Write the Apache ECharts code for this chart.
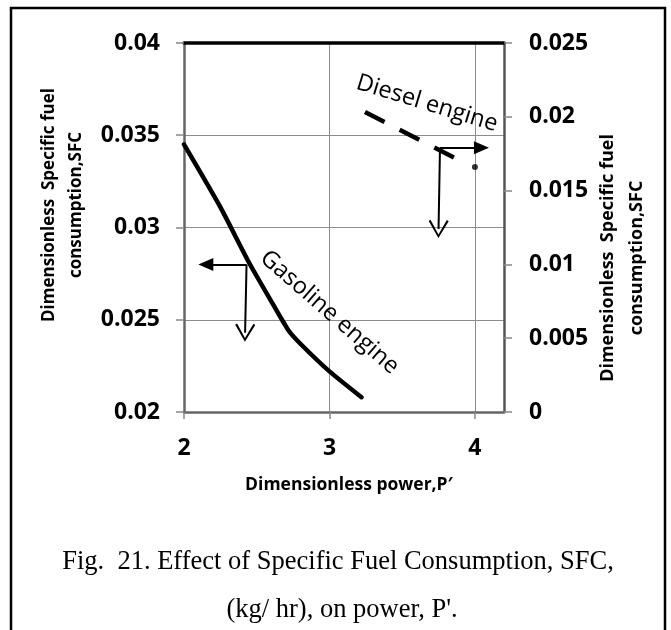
<!DOCTYPE html>
<html lang="en">
<head>
    <meta charset="UTF-8"/>
    <script src="https://cdn.jsdelivr.net/npm/echarts@6/dist/echarts.min.js"></script>
    <title>sfc_vs_power</title>
    <style>html, body { margin: 0; padding: 0; background: #fff; }</style>
</head>
<body>
<div id="main" style="width: 671px;height:630px;"></div>
<script type="text/javascript">
    // gasoline engine, read against the left axis
    var gasolineP = [2, 2.25, 2.44, 2.6, 2.72, 2.8, 3.0, 3.22];
    var gasolineSFC = [0.0345, 0.0311, 0.0282, 0.0260, 0.0244, 0.0237, 0.0222, 0.0208];
    // diesel engine, read against the right axis
    var dieselP = [3.244, 3.863];
    var dieselSFC = [0.02033, 0.0172];
    var dieselDot = [4.0, 0.0166];

    var xTicks = [2, 3, 4];
    var xMax = 4.2;
    var leftTicks = [0.02, 0.025, 0.03, 0.035, 0.04];
    var rightTicks = [0, 0.005, 0.01, 0.015, 0.02, 0.025];

    // pointer arrows [from, to] in data units
    var gasArrowLeft = [[2.43, 0.0280], [2.15, 0.0280]];
    var gasArrowDown = [[2.43, 0.0280], [2.42, 0.0243]];
    var dslArrowRight = [[3.76, 0.0179], [4.045, 0.0179]];
    var dslArrowDown = [[3.76, 0.0179], [3.75, 0.0124]];

    var openArrow = 'path://M10,0 L0,17 L1.8,18.2 L10,3.6 L18.2,18.2 L20,17 Z';

    function zip(a, b) {
        var out = [];
        for (var i = 0; i < a.length; i++) out.push([a[i], b[i]]);
        return out;
    }
    function fmt(v) { return String(+v.toFixed(3)); }

    var labelFont = {color: '#000', fontSize: 23, fontWeight: 'bold', fontFamily: '"Open Sans"'};

    function arrowLines(pairs) {
        return pairs.map(function (p) {
            return [{coord: p[0], symbol: 'none'}, {coord: p[1], symbol: p[2], symbolSize: p[3]}];
        });
    }

    var myChart = echarts.init(document.getElementById('main'));

    var option = {
        animation: false,
        backgroundColor: '#fff',
        grid: {left: 184, top: 43, width: 320, height: 369, outerBoundsMode: 'none'},
        xAxis: [{
            type: 'value',
            min: xTicks[0], max: xMax, interval: 1,
            axisLine: {show: true, onZero: false, lineStyle: {color: '#666', width: 2.5}},
            axisTick: {show: true, length: 7, lineStyle: {color: '#888', width: 1.5}},
            axisLabel: Object.assign({margin: 25, showMaxLabel: false, formatter: fmt}, labelFont),
            splitLine: {show: true, lineStyle: {color: '#8c8c8c', width: 1}}
        }, {
            type: 'value', position: 'top',
            min: xTicks[0], max: xMax,
            axisLine: {show: true, onZero: false, lineStyle: {color: '#000', width: 3.5}},
            axisTick: {show: false}, axisLabel: {show: false}, splitLine: {show: false}
        }],
        yAxis: [{
            type: 'value', position: 'left',
            min: leftTicks[0], max: leftTicks[leftTicks.length - 1], interval: 0.005,
            axisLine: {show: true, onZero: false, lineStyle: {color: '#666', width: 2.5}},
            axisTick: {show: true, length: 8, lineStyle: {color: '#888', width: 1.5}},
            axisLabel: Object.assign({margin: 24, formatter: fmt}, labelFont),
            splitLine: {show: true, lineStyle: {color: '#8c8c8c', width: 1}}
        }, {
            type: 'value', position: 'right',
            min: rightTicks[0], max: rightTicks[rightTicks.length - 1], interval: 0.005,
            axisLine: {show: true, onZero: false, lineStyle: {color: '#555', width: 2.5}},
            axisTick: {show: true, length: 8, lineStyle: {color: '#888', width: 1.5}},
            axisLabel: Object.assign({margin: 25, formatter: fmt}, labelFont),
            splitLine: {show: false}
        }],
        series: [{
            name: 'Gasoline engine',
            type: 'line',
            yAxisIndex: 0,
            data: zip(gasolineP, gasolineSFC),
            showSymbol: false,
            smooth: 0.2,
            lineStyle: {color: '#000', width: 4.5, cap: 'round'},
            markLine: {
                silent: true, animation: false,
                label: {show: false},
                lineStyle: {color: '#000', width: 2, type: 'solid'},
                data: arrowLines([
                    [gasArrowLeft[0], gasArrowLeft[1], 'triangle', [13, 15]],
                    [gasArrowDown[0], gasArrowDown[1], openArrow, [20, 18]]
                ])
            },
            markPoint: {
                silent: true, animation: false,
                symbolSize: 0,
                data: [{
                    coord: [3.0, 0.0254],
                    label: {
                        show: true, position: 'inside', formatter: 'Gasoline engine', rotate: -41,
                        color: '#000', fontSize: 23.5, fontFamily: '"Open Sans"'
                    }
                }]
            }
        }, {
            name: 'Diesel engine',
            type: 'line',
            yAxisIndex: 1,
            data: zip(dieselP, dieselSFC),
            showSymbol: false,
            lineStyle: {color: '#000', width: 4.5, type: [22, 17], cap: 'butt'},
            markLine: {
                silent: true, animation: false,
                label: {show: false},
                lineStyle: {color: '#000', width: 2, type: 'solid'},
                data: arrowLines([
                    [dslArrowRight[0], dslArrowRight[1], 'triangle', [13, 15]],
                    [dslArrowDown[0], dslArrowDown[1], openArrow, [20, 18]]
                ])
            },
            markPoint: {
                silent: true, animation: false,
                symbolSize: 0,
                data: [{
                    coord: [3.67, 0.0209],
                    label: {
                        show: true, position: 'inside', formatter: 'Diesel engine', rotate: -17,
                        color: '#000', fontSize: 23.5, fontFamily: '"Open Sans"'
                    }
                }]
            }
        }, {
            name: 'Diesel point',
            type: 'scatter',
            yAxisIndex: 1,
            data: [dieselDot],
            symbolSize: 6,
            itemStyle: {color: '#000'}
        }],
        graphic: [{
            type: 'polyline', silent: true,
            shape: {points: [[11, 630], [11, 8], [665, 8], [665, 630]]},
            style: {stroke: '#000', lineWidth: 2.5, fill: null}
        }, {
            type: 'text', x: 63, y: 205, rotation: Math.PI / 2,
            style: {
                text: 'Dimensionless  Specific fuel\nconsumption,SFC', fill: '#000',
                fontSize: 17, fontWeight: 'bold', fontFamily: '"Open Sans"',
                align: 'center', verticalAlign: 'middle', lineHeight: 27
            }
        }, {
            type: 'text', x: 622, y: 258, rotation: Math.PI / 2,
            style: {
                text: 'Dimensionless  Specific fuel\nconsumption,SFC', fill: '#000',
                fontSize: 18, fontWeight: 'bold', fontFamily: '"Open Sans"',
                align: 'center', verticalAlign: 'middle', lineHeight: 29
            }
        }, {
            type: 'text', x: 349, y: 485,
            style: {
                text: 'Dimensionless power,P\u2032', fill: '#000',
                fontSize: 17.5, fontWeight: 'bold', fontFamily: '"Open Sans"',
                align: 'center', verticalAlign: 'middle'
            }
        }, {
            type: 'text', x: 338, y: 562,
            style: {
                text: 'Fig.  21. Effect of Specific Fuel Consumption, SFC,', fill: '#000',
                fontSize: 26.5, fontFamily: '"Liberation Serif"',
                align: 'center', verticalAlign: 'middle'
            }
        }, {
            type: 'text', x: 342, y: 610,
            style: {
                text: "(kg/ hr), on power, P'.", fill: '#000',
                fontSize: 26.5, fontFamily: '"Liberation Serif"',
                align: 'center', verticalAlign: 'middle'
            }
        }]
    };

    myChart.setOption(option);
</script>
</body>
</html>
